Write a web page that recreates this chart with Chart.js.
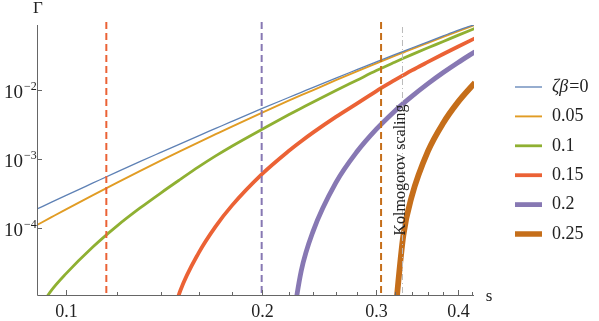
<!DOCTYPE html>
<html lang="en">
<head>
<meta charset="utf-8">
<title>Gamma vs s</title>
<script src="https://cdn.jsdelivr.net/npm/chart.js"></script>
<style>
  html, body { margin: 0; padding: 0; background: #fff; }
  #wrap { width: 599px; height: 321px; }
</style>
</head>
<body>
<div id="wrap"><canvas id="gammaChart"></canvas></div>
<script>
// s grid and Gamma values
const sValues = [0.0904, 0.095, 0.1, 0.11, 0.12, 0.13, 0.14, 0.15, 0.16, 0.17, 0.18, 0.2, 0.22, 0.23, 0.24, 0.26, 0.28, 0.3, 0.32, 0.33, 0.34, 0.36, 0.38, 0.4, 0.425];
const gamma000 = [1.885e-4, 2.35e-4, 2.949e-4, 4.46e-4, 6.501e-4, 9.14e-4, 1.246e-3, 1.661e-3, 2.169e-3, 2.777e-3, 3.506e-3, 5.358e-3, 7.784e-3, 9.26e-3, 1.094e-2, 1.488e-2, 1.969e-2, 2.554e-2, 3.247e-2, 3.637e-2, 4.061e-2, 4.995e-2, 6.082e-2, 7.307e-2, 8.9e-2];
const gamma005 = [1.105e-4, 1.424e-4, 1.848e-4, 2.969e-4, 4.535e-4, 6.655e-4, 9.45e-4, 1.302e-3, 1.746e-3, 2.288e-3, 2.949e-3, 4.672e-3, 6.996e-3, 8.41e-3, 1.0e-2, 1.387e-2, 1.861e-2, 2.429e-2, 3.111e-2, 3.495e-2, 3.915e-2, 4.831e-2, 5.883e-2, 7.067e-2, 8.75e-2];
const gamma010 = [6.06e-6, 1.23e-5, 2.147e-5, 5.267e-5, 1.076e-4, 1.936e-4, 3.215e-4, 5.062e-4, 7.681e-4, 1.109e-3, 1.533e-3, 2.676e-3, 4.37e-3, 5.447e-3, 6.722e-3, 9.835e-3, 1.387e-2, 1.911e-2, 2.528e-2, 2.88e-2, 3.258e-2, 4.088e-2, 5.045e-2, 6.183e-2, 7.81e-2];
const gamma015 = [null, null, null, null, null, null, 1.44e-6, 1.233e-5, 4.333e-5, 1.058e-4, 2.112e-4, 5.993e-4, 1.305e-3, 1.811e-3, 2.433e-3, 4.083e-3, 6.365e-3, 9.67e-3, 1.387e-2, 1.64e-2, 1.923e-2, 2.554e-2, 3.323e-2, 4.241e-2, 5.614e-2];
const gamma020 = [null, null, null, null, null, null, null, null, null, null, null, null, 1.82e-6, 2.378e-5, 9.107e-5, 4.544e-4, 1.271e-3, 2.709e-3, 4.937e-3, 6.397e-3, 8.11e-3, 1.24e-2, 1.795e-2, 2.491e-2, 3.584e-2];
const gamma025 = [null, null, null, null, null, null, null, null, null, null, null, null, null, null, null, null, null, null, 4.69e-6, 7.8e-5, 2.884e-4, 1.298e-3, 3.328e-3, 6.613e-3, 1.279e-2];

const seriesLabels = ['ζβ', '0.05', '0.1', '0.15', '0.2', '0.25'];
const xMajorTicks = [0.1, 0.2, 0.3, 0.4];
const xMinorTicks = [0.12, 0.14, 0.16, 0.18, 0.22, 0.24, 0.26, 0.28, 0.32, 0.34, 0.36, 0.38, 0.42];
const yTickExponents = [-4, -3, -2];
const markerS = [0.1155, 0.2, 0.305];
const kolmogorovS = 0.329;

const colors = ['#5E81B5', '#E19C24', '#8FB032', '#EB6235', '#8778B3', '#C56E1A'];
const widths = [1.3, 1.9, 2.8, 3.8, 4.8, 5.8];
const markerColors = ['#EB6235', '#8778B3', '#C56E1A'];
const serif = '"Liberation Serif", "DejaVu Serif", serif';

const allSeries = [gamma000, gamma005, gamma010, gamma015, gamma020, gamma025];

const datasets = allSeries.map((vals, i) => ({
    label: seriesLabels[i],
    data: sValues.map((s, k) => ({ x: s, y: vals[k] })),
    borderColor: colors[i],
    borderWidth: widths[i],
    pointRadius: 0,
    fill: false,
    cubicInterpolationMode: 'monotone'
}));

const decorPlugin = {
    id: 'decor',
    afterDatasetsDraw(chart) {
        const { ctx, chartArea: a, scales: { x, y } } = chart;
        ctx.save();

        // vertical dashed markers
        markerS.forEach((s, i) => {
            const px = x.getPixelForValue(s);
            ctx.strokeStyle = markerColors[i];
            ctx.lineWidth = 2;
            ctx.setLineDash([7, 4]);
            ctx.beginPath();
            ctx.moveTo(px, a.top - 3);
            ctx.lineTo(px, a.bottom);
            ctx.stroke();
        });

        // Kolmogorov scaling line + label
        const kx = x.getPixelForValue(kolmogorovS);
        ctx.strokeStyle = '#bbbbbb';
        ctx.lineWidth = 1;
        ctx.setLineDash([6, 3, 1, 3]);
        ctx.beginPath();
        ctx.moveTo(kx, a.top + 2);
        ctx.lineTo(kx, a.bottom);
        ctx.stroke();
        ctx.setLineDash([]);

        ctx.save();
        ctx.translate(kx - 2, 170);
        ctx.rotate(-Math.PI / 2);
        ctx.fillStyle = '#222';
        ctx.font = '16px ' + serif;
        ctx.textAlign = 'center';
        ctx.textBaseline = 'middle';
        ctx.fillText('Kolmogorov scaling', 0, 0);
        ctx.restore();

        // axes
        ctx.strokeStyle = '#666';
        ctx.lineWidth = 1;
        ctx.beginPath();
        ctx.moveTo(a.left + 0.5, a.top);
        ctx.lineTo(a.left + 0.5, a.bottom + 0.5);
        ctx.lineTo(a.right, a.bottom + 0.5);
        ctx.stroke();

        // x ticks
        ctx.fillStyle = '#222';
        ctx.font = '18px ' + serif;
        ctx.textAlign = 'center';
        ctx.textBaseline = 'middle';
        xMajorTicks.forEach(t => {
            const px = Math.round(x.getPixelForValue(t)) + 0.5;
            ctx.beginPath();
            ctx.moveTo(px, a.bottom);
            ctx.lineTo(px, a.bottom - 5);
            ctx.stroke();
            ctx.fillText(String(t), px, a.bottom + 17);
        });
        xMinorTicks.forEach(t => {
            const px = Math.round(x.getPixelForValue(t)) + 0.5;
            ctx.beginPath();
            ctx.moveTo(px, a.bottom);
            ctx.lineTo(px, a.bottom - 3);
            ctx.stroke();
        });

        // y ticks
        yTickExponents.forEach(e => {
            const py = Math.round(y.getPixelForValue(Math.pow(10, e))) + 0.5;
            ctx.beginPath();
            ctx.moveTo(a.left, py);
            ctx.lineTo(a.left + 5, py);
            ctx.stroke();
            ctx.font = '19px ' + serif;
            ctx.textAlign = 'right';
            ctx.textBaseline = 'middle';
            ctx.fillText('10', 23, py + 3);
            ctx.font = '12px ' + serif;
            ctx.textAlign = 'left';
            ctx.fillText('\u2212' + Math.abs(e), 24, py - 4);
        });

        // axis labels
        ctx.font = '17px ' + serif;
        ctx.textAlign = 'center';
        ctx.textBaseline = 'middle';
        ctx.fillText('\u0393', 38, 9);
        ctx.fillText('s', 489, 297);

        // legend
        const lx0 = 515, lx1 = 542, tx = 552, ly0 = 87, step = 29.4;
        datasets.forEach((d, i) => {
            const ly = ly0 + i * step;
            ctx.strokeStyle = colors[i];
            ctx.lineWidth = Math.min(widths[i], 5.5);
            ctx.beginPath();
            ctx.moveTo(lx0, ly);
            ctx.lineTo(lx1, ly);
            ctx.stroke();
            ctx.fillStyle = '#222';
            ctx.textAlign = 'left';
            ctx.textBaseline = 'middle';
            if (i === 0) {
                ctx.font = 'italic 18px ' + serif;
                ctx.fillText(d.label, tx, ly);
                const w = ctx.measureText(d.label).width;
                ctx.font = '18px ' + serif;
                ctx.fillText('=0', tx + w + 1, ly);
            } else {
                ctx.font = '18px ' + serif;
                ctx.fillText(d.label, tx, ly);
            }
        });

        ctx.restore();
    }
};

new Chart(document.getElementById('gammaChart').getContext('2d'), {
    type: 'line',
    data: { datasets: datasets },
    options: {
        responsive: true,
        maintainAspectRatio: false,
        animation: false,
        spanGaps: false,
        layout: { padding: { left: 37, right: 125, top: 25, bottom: 26 } },
        scales: {
            x: { type: 'logarithmic', min: 0.0904, max: 0.4236, display: false },
            y: { type: 'logarithmic', min: 1.07e-5, max: 0.0875, display: false }
        },
        plugins: {
            legend: { display: false },
            tooltip: { enabled: false }
        }
    },
    plugins: [decorPlugin]
});
</script>
</body>
</html>
